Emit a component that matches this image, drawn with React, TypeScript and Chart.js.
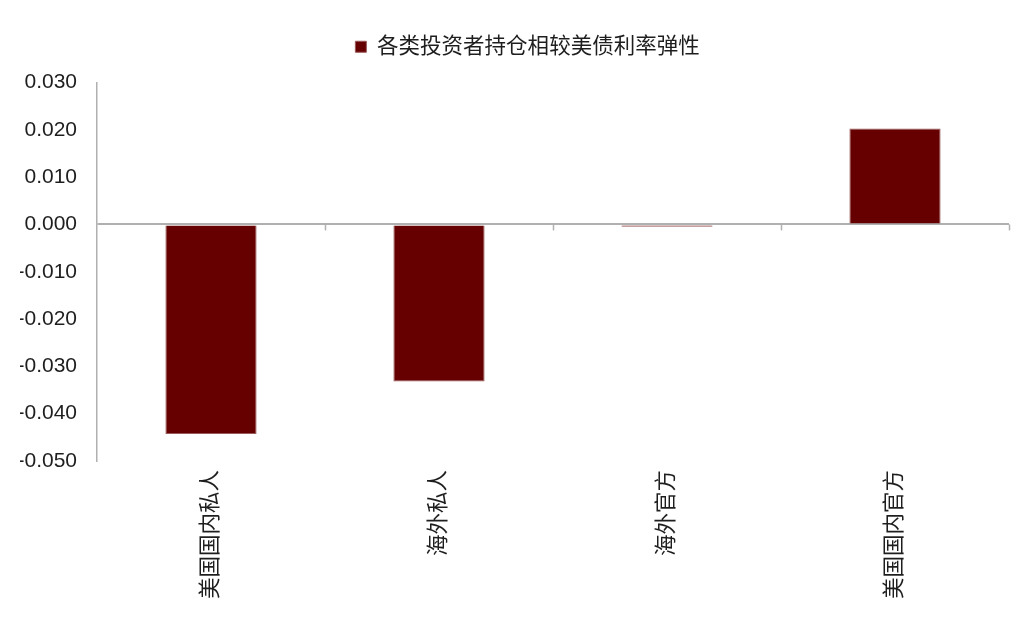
import { useEffect, useRef } from 'react'
import { Chart, registerables } from 'chart.js'

Chart.register(...registerables)

const categories = ['美国国内私人', '海外私人', '海外官方', '美国国内官方']
const elasticity = [-0.0443, -0.0332, -0.0005, 0.0203]
const seriesName = '各类投资者持仓相较美债利率弹性'
const yMin = -0.05
const yMax = 0.03
const yStep = 0.01

const barColor = '#660000'
const axisColor = '#b0b0b0'
const textColor = '#1e1e1e'
const fontFamily = '"Liberation Sans", Arial, "Noto Sans CJK SC", sans-serif'

// little downward tick marks on the zero line, between categories
const zeroTicks = {
  id: 'zeroTicks',
  afterDatasetsDraw(chart: any) {
    const { ctx, scales } = chart
    const x = scales.x
    const y0 = scales.y.getPixelForValue(0)
    ctx.save()
    ctx.strokeStyle = axisColor
    ctx.lineWidth = 1.5
    for (let i = 1; i <= categories.length; i++) {
      const px = Math.round(x.getPixelForValue(i - 0.5)) + 0.5
      ctx.beginPath()
      ctx.moveTo(px, y0)
      ctx.lineTo(px, y0 + 6)
      ctx.stroke()
    }
    ctx.restore()
  },
}

// extra room under the legend
const legendGap = {
  id: 'legendGap',
  beforeInit(chart: any) {
    const fit = chart.legend.fit
    chart.legend.fit = function () {
      fit.bind(chart.legend)()
      this.height += 15
    }
  },
}

export default function App() {
  const canvasRef = useRef<HTMLCanvasElement>(null)
  const chartRef = useRef<Chart | null>(null)

  useEffect(() => {
    if (!canvasRef.current) return
    chartRef.current?.destroy()

    chartRef.current = new Chart(canvasRef.current, {
      type: 'bar',
      data: {
        labels: categories,
        datasets: [
          {
            label: seriesName,
            data: elasticity,
            backgroundColor: barColor,
            borderColor: '#9a5a5a',
            borderWidth: 1,
            barPercentage: 0.4,
            categoryPercentage: 1,
          },
        ],
      },
      options: {
        responsive: true,
        maintainAspectRatio: false,
        animation: false,
        layout: { padding: { left: 20, right: 0, top: 26, bottom: 20 } },
        plugins: {
          tooltip: { enabled: false },
          legend: {
            position: 'top',
            labels: {
              color: textColor,
              boxWidth: 11,
              boxHeight: 11,
              padding: 10,
              font: { family: fontFamily, size: 21.5 },
            },
          },
        },
        scales: {
          x: {
            grid: { display: false },
            border: { display: false },
            ticks: {
              color: textColor,
              font: { family: fontFamily, size: 21.5 },
              maxRotation: 90,
              minRotation: 90,
              padding: 1,
            },
          },
          y: {
            min: yMin,
            max: yMax,
            afterFit: (scale: any) => { scale.width = 77 },
            border: { display: true, color: axisColor, width: 1.5 },
            grid: {
              drawTicks: false,
              lineWidth: 2,
              color: (c: any) => (Math.abs(c.tick?.value ?? 1) < 1e-9 ? axisColor : 'transparent'),
            },
            ticks: {
              stepSize: yStep,
              padding: 20,
              color: textColor,
              font: { family: fontFamily, size: 21 },
              callback: (v: any) => Number(v).toFixed(3),
            },
          },
          // empty right-hand strip so the plot ends where the reference does
          yRight: {
            position: 'right',
            min: yMin,
            max: yMax,
            afterFit: (scale: any) => { scale.width = 26 },
            grid: { display: false },
            border: { display: false },
            ticks: { display: false },
          },
        },
      },
      plugins: [zeroTicks, legendGap],
    })

    return () => chartRef.current?.destroy()
  }, [])

  return (
    <div style={{ position: 'fixed', left: 0, top: 0, width: 1035, height: 620, background: '#fff' }}>
      <canvas ref={canvasRef} />
    </div>
  )
}
